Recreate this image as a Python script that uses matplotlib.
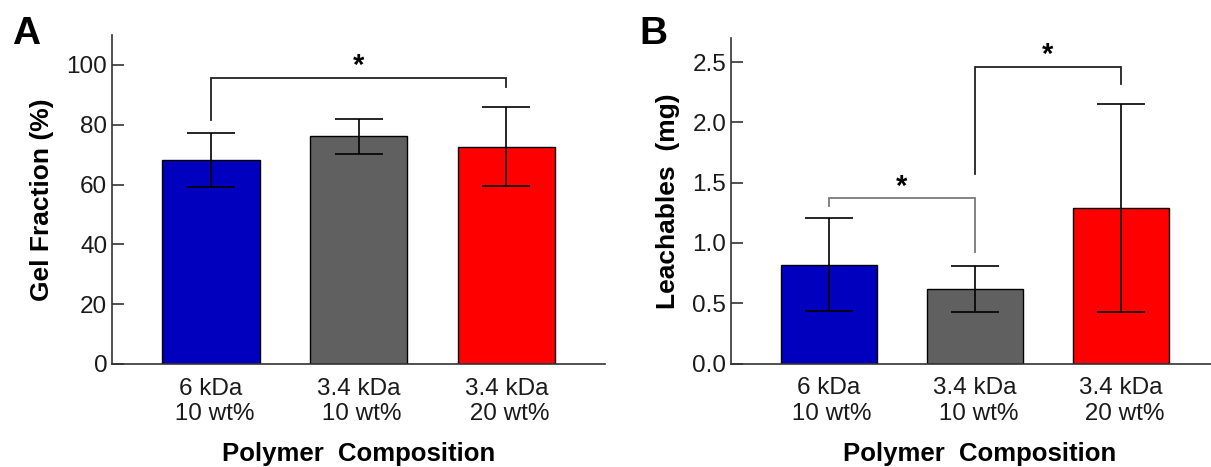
#!/usr/bin/env python3

import numpy as np
import matplotlib
matplotlib.use('Agg')
import matplotlib.pyplot as plt

plt.rcParams['font.family'] = ['Liberation Sans', 'DejaVu Sans']

# data
groups = ['6 kDa\n 10 wt%', '3.4 kDa\n 10 wt%', '3.4 kDa\n 20 wt%']
colors = ['#0000BE', '#606060', '#FF0000']

gel_mean = [68.3, 76.1, 72.7]
gel_sd = [9.0, 5.8, 13.3]

leach_mean = [0.82, 0.62, 1.29]
leach_sd = [0.385, 0.19, 0.86]

# significance brackets: (left bar, right bar, top, left leg end, right leg end)
gel_sig = [(0, 2, 95.7, 81.7, 92.6)]
leach_sig = [(0, 1, 1.37, 1.31, 0.925),
             (1, 2, 2.46, 1.57, 2.32)]
leach_sig_colors = ['#7a7a7a', '#222222']


def draw_panel(ax, means, sd, ylim, yticks, ylabel, fmt):
    x = np.arange(len(groups))
    ax.bar(x, means, width=0.657, color=colors, edgecolor='black',
           linewidth=1.0, zorder=2)
    ax.errorbar(x, means, yerr=sd, fmt='none', ecolor='black',
                elinewidth=1.2, capsize=17.6, capthick=1.2, zorder=3)
    ax.set_ylim(*ylim)
    ax.set_yticks(yticks)
    ax.set_yticklabels([fmt % t for t in yticks])
    ax.set_xticks(x)
    ax.set_xticklabels(groups, multialignment='center')
    for side in ['top', 'right']:
        ax.spines[side].set_visible(False)
    for side in ['left', 'bottom']:
        ax.spines[side].set_color('#333333')
        ax.spines[side].set_linewidth(1.2)
    ax.tick_params(axis='y', direction='in', length=8.6, width=1.2,
                   color='#333333', pad=3.5, labelsize=17.5, labelcolor='#1a1a1a')
    ax.tick_params(axis='x', length=0, pad=10, labelsize=17.5, labelcolor='#1a1a1a')
    ax.set_ylabel(ylabel, fontsize=19, fontweight='bold')
    ax.set_xlabel('Polymer  Composition', fontsize=18.5, fontweight='bold')


def bracket(ax, sig, color):
    x0, x1, top, y0, y1 = sig
    ax.plot([x0, x0, x1, x1], [y0, top, top, y1], color=color, lw=1.3,
            solid_joinstyle='miter', zorder=4)


fig = plt.figure(figsize=(12.11, 4.67), dpi=100)

axA = fig.add_axes([112 / 1211, 1 - 364 / 467, 493 / 1211, 329 / 467])
draw_panel(axA, gel_mean, gel_sd, (0, 110), [0, 20, 40, 60, 80, 100],
           'Gel Fraction (%)', '%d')
axA.set_xlim(-0.67, 2.667)
for s in gel_sig:
    bracket(axA, s, '#222222')
    axA.text((s[0] + s[1]) / 2, 104.5, '*', ha='center', va='top',
             fontsize=21, fontweight='bold')
axA.yaxis.set_label_coords(-0.1176, 0.5)
axA.xaxis.set_label_coords(0.501, -0.238)

axB = fig.add_axes([731 / 1211, 1 - 363.5 / 467, 480 / 1211, 325.5 / 467])
draw_panel(axB, leach_mean, leach_sd, (0, 2.7), [0.0, 0.5, 1.0, 1.5, 2.0, 2.5],
           'Leachables  (mg)', '%.1f')
axB.set_xlim(-0.668, 2.615)
star_y = [1.58, 2.674]
for s, c, sy in zip(leach_sig, leach_sig_colors, star_y):
    bracket(axB, s, c)
    axB.text((s[0] + s[1]) / 2, sy, '*', ha='center', va='top',
             fontsize=21, fontweight='bold')
axB.yaxis.set_label_coords(-0.106, 0.5)
axB.xaxis.set_label_coords(0.518, -0.24)

fig.text(12 / 1211, 1 - 44 / 467, 'A', fontsize=28, fontweight='bold',
         ha='left', va='baseline')
fig.text(639 / 1211, 1 - 44 / 467, 'B', fontsize=28, fontweight='bold',
         ha='left', va='baseline')

fig.savefig('out.png', dpi=100)
